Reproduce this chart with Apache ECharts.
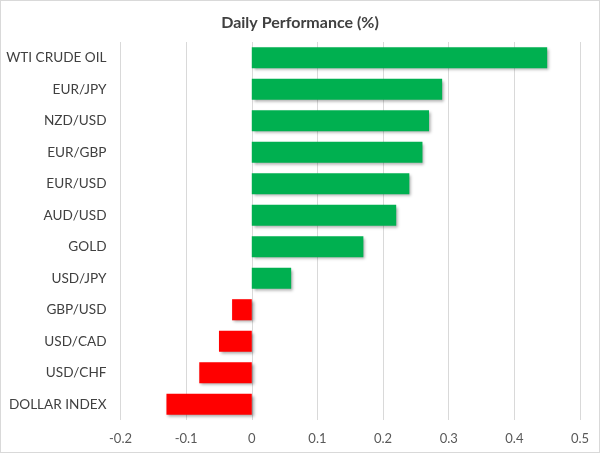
<!DOCTYPE html>
<html>
<head>
<meta charset="utf-8">
<script src="https://cdn.jsdelivr.net/npm/echarts@6/dist/echarts.min.js"></script>
<style>
html,body{margin:0;padding:0;background:#fff;}
#c{width:598px;height:451px;border:1px solid #d9d9d9;}
</style>
</head>
<body>
<div id="c"></div>
<script>
var categories = ['WTI CRUDE OIL','EUR/JPY','NZD/USD','EUR/GBP','EUR/USD','AUD/USD','GOLD','USD/JPY','GBP/USD','USD/CAD','USD/CHF','DOLLAR INDEX'];
var values = [0.45,0.29,0.27,0.26,0.24,0.22,0.17,0.06,-0.03,-0.05,-0.08,-0.13];
var xTicks = ['-0.2','-0.1','0','0.1','0.2','0.3','0.4','0.5'];

var chart = echarts.init(document.getElementById('c'));
chart.setOption({
  animation:false,
  title:{text:'Daily Performance (%)',left:'center',top:9,
    textStyle:{fontFamily:'Lato',fontSize:16,fontWeight:'bold',color:'#404040'}},
  grid:{left:119.5,right:19,top:41,bottom:32,containLabel:false},
  xAxis:{type:'value',min:-0.2,max:0.5,interval:0.1,
    axisLine:{show:false},axisTick:{show:false},
    splitLine:{lineStyle:{color:'#d9d9d9',width:1}},
    axisLabel:{margin:12,fontFamily:'Lato',fontSize:13,color:'#595959',
      formatter:function(v){var i=Math.round((v+0.2)*10);return xTicks[i]!==undefined?xTicks[i]:v;}}},
  yAxis:{type:'category',data:categories,inverse:true,
    axisLine:{show:false},axisTick:{show:false},splitLine:{show:false},
    axisLabel:{margin:14,fontFamily:'Lato',fontSize:13.6,color:'#404040'}},
  series:[{type:'bar',barCategoryGap:'33%',
    data:values.map(function(v){return {value:v,itemStyle:{color:v>=0?'#00B050':'#FF0000'}};}),
    itemStyle:{shadowColor:'rgba(0,0,0,0.35)',shadowBlur:3,shadowOffsetX:2,shadowOffsetY:2}}]
});
</script>
</body>
</html>
